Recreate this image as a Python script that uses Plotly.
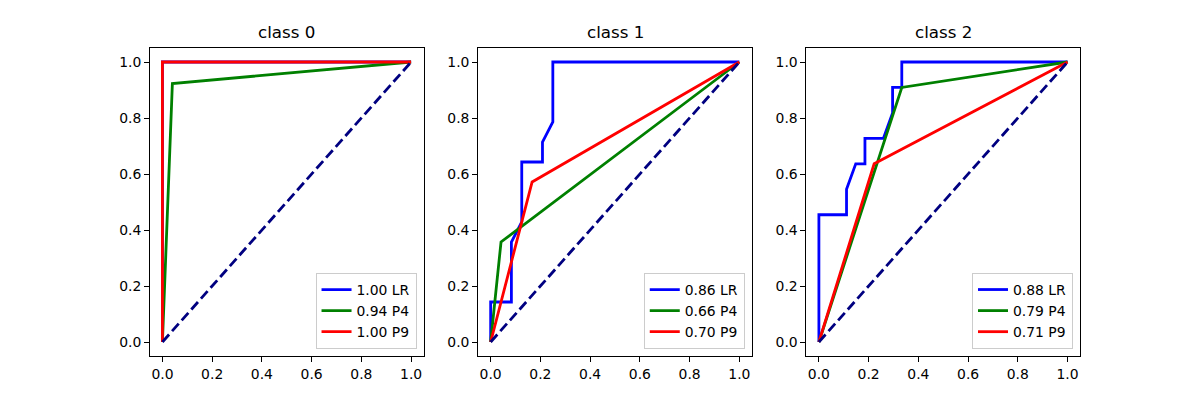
import plotly.graph_objects as go

titles = ["class 0", "class 1", "class 2"]
model_names = ["LR", "P4", "P9"]
colors = ["blue", "green", "red"]

# ROC curves per class: (fpr, tpr) for LR, P4, P9
c0_lr_fpr = [0.0, 0.0, 1.0]
c0_lr_tpr = [0.0, 1.0, 1.0]
c0_p4_fpr = [0.0, 1/25, 1.0]
c0_p4_tpr = [0.0, 12/13, 1.0]
c0_p9_fpr = [0.0, 0.0, 1.0]
c0_p9_tpr = [0.0, 1.0, 1.0]
c0_auc = [1.00, 0.94, 1.00]

c1_lr_fpr = [0.0, 0.0, 2/24, 2/24, 3/24, 3/24, 5/24, 5/24, 6/24, 6/24, 1.0]
c1_lr_tpr = [0.0, 2/14, 2/14, 5/14, 6/14, 9/14, 9/14, 10/14, 11/14, 1.0, 1.0]
c1_p4_fpr = [0.0, 1/24, 1.0]
c1_p4_tpr = [0.0, 5/14, 1.0]
c1_p9_fpr = [0.0, 4/24, 1.0]
c1_p9_tpr = [0.0, 8/14, 1.0]
c1_auc = [0.86, 0.66, 0.70]

c2_lr_fpr = [0.0, 0.0, 3/27, 3/27, 4/27, 5/27, 5/27, 7/27, 8/27, 8/27, 9/27, 9/27, 1.0]
c2_lr_tpr = [0.0, 5/11, 5/11, 6/11, 7/11, 7/11, 8/11, 8/11, 9/11, 10/11, 10/11, 1.0, 1.0]
c2_p4_fpr = [0.0, 9/27, 1.0]
c2_p4_tpr = [0.0, 10/11, 1.0]
c2_p9_fpr = [0.0, 6/27, 1.0]
c2_p9_tpr = [0.0, 7/11, 1.0]
c2_auc = [0.88, 0.79, 0.71]

diag_x = [0.0, 1.0]
diag_y = [0.0, 1.0]

tick_vals = [0.0, 0.2, 0.4, 0.6, 0.8, 1.0]
tick_text = ["0.0", "0.2", "0.4", "0.6", "0.8", "1.0"]

classes = [
    [(c0_lr_fpr, c0_lr_tpr), (c0_p4_fpr, c0_p4_tpr), (c0_p9_fpr, c0_p9_tpr), c0_auc],
    [(c1_lr_fpr, c1_lr_tpr), (c1_p4_fpr, c1_p4_tpr), (c1_p9_fpr, c1_p9_tpr), c1_auc],
    [(c2_lr_fpr, c2_lr_tpr), (c2_p4_fpr, c2_p4_tpr), (c2_p9_fpr, c2_p9_tpr), c2_auc],
]

W, H = 1200, 400
ax_w = 930 / 3.4
ax_lefts = [150, 150 + ax_w * 1.2, 150 + ax_w * 2.4]
ybot, ytop = 0.11, 0.88
FONT = "DejaVu Sans"

fig = go.Figure()
layout = dict(
    width=W, height=H, margin=dict(l=0, r=0, t=0, b=0),
    plot_bgcolor="white", paper_bgcolor="white",
    font=dict(family=FONT, size=13.9, color="black"),
    showlegend=True, annotations=[],
)

for i, cls in enumerate(classes):
    sfx = "" if i == 0 else str(i + 1)
    xa = "x" + sfx
    ya = "y" + sfx
    lg = "legend" + sfx
    aucs = cls[3]
    for j in range(3):
        fx, ty = cls[j]
        fig.add_trace(go.Scatter(
            x=fx, y=ty, mode="lines", xaxis=xa, yaxis=ya, legend=lg,
            name=f"{aucs[j]:.2f} {model_names[j]}",
            line=dict(color=colors[j], width=2.8),
            hoverinfo="skip",
        ))
    fig.add_trace(go.Scatter(
        x=diag_x, y=diag_y, mode="lines", xaxis=xa, yaxis=ya, showlegend=False,
        line=dict(color="navy", width=2.8, dash="10px,4.5px"), hoverinfo="skip",
    ))
    x0 = ax_lefts[i] / W
    x1 = (ax_lefts[i] + ax_w) / W
    axis_common = dict(
        range=[-0.05, 1.05], tickmode="array", tickvals=tick_vals, ticktext=tick_text,
        showgrid=False, zeroline=False, showline=True, linecolor="black", linewidth=1,
        mirror=True, ticks="outside", ticklen=5, tickcolor="black", tickwidth=1,
        tickfont=dict(family=FONT, size=13.9, color="black"),
    )
    layout["xaxis" + sfx] = dict(domain=[x0, x1], anchor=ya, **axis_common)
    layout["yaxis" + sfx] = dict(domain=[ybot, ytop], anchor=xa, **axis_common)
    layout[lg] = dict(
        x=(ax_lefts[i] + ax_w - 7) / W, y=ybot + 7 / H,
        xanchor="right", yanchor="bottom",
        bgcolor="rgba(255,255,255,0.8)", bordercolor="#cccccc", borderwidth=1,
        font=dict(family=FONT, size=13.9, color="black"),
        tracegroupgap=0,
    )
    layout["annotations"].append(dict(
        text=titles[i], xref="paper", yref="paper",
        x=(x0 + x1) / 2, y=ytop, xanchor="center", yanchor="bottom",
        yshift=4, showarrow=False,
        font=dict(family=FONT, size=16.7, color="black"),
    ))

fig.update_layout(**layout)
fig.write_html("out.html")
